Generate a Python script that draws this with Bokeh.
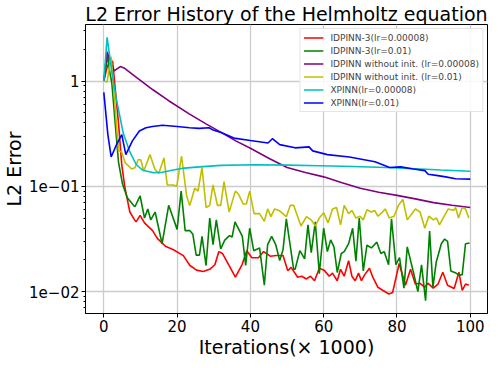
from bokeh.plotting import figure
from bokeh.models import FixedTicker, CustomJSTickFormatter
from bokeh.embed import file_html
from bokeh.resources import INLINE

FONT = "DejaVu Sans"

title = "L2 Error History of the Helmholtz equation"
x_label = "Iterations(× 1000)"
y_label = "L2 Error"
x_ticks = [0, 20, 40, 60, 80, 100]
y_ticks = [0.01, 0.1, 1]

labels = ["IDPINN-3(lr=0.00008)", "IDPINN-3(lr=0.01)",
          "IDPINN without init. (lr=0.00008)", "IDPINN without init. (lr=0.01)",
          "XPINN(lr=0.00008)", "XPINN(lr=0.01)"]
colors = ["#ff0000", "#008000", "#800080", "#bfbf00", "#00bfbf", "#0000ff"]

# IDPINN-3 (lr=0.00008)
red_x = [0, 1, 2.4, 4, 4.9, 5.7, 7.1, 8.4, 8.8, 9.9, 11.1, 13.3, 14.6, 16.8, 19, 21.7,
         23.5, 25.3, 27.1, 28.9, 30.3, 31.4, 32.4, 34.2, 35.9, 37.7, 39, 40.4, 42.2,
         43.6, 45.4, 47.1, 48.9, 50.2, 51.1, 52.9, 54, 55.3, 56.4, 57.5, 58.8, 60.1,
         61.5, 62.4, 63.7, 64.6, 65.6, 66.8, 67.7, 68.6, 69.5, 70.3, 71.2, 72.5, 73.4,
         74.8, 76.1, 77.8, 78.8, 80.6, 82.3, 83.7, 85, 86.3, 87.6, 88.5, 89.9, 91.2,
         92.5, 93.8, 95.6, 96.9, 97.8, 98.7, 99.6]
red_y = [1.0, 1.4, 1.55, 0.4, 0.16, 0.1, 0.057, 0.048, 0.046, 0.053, 0.045, 0.038, 0.032,
         0.027, 0.025, 0.022, 0.0177, 0.016, 0.0155, 0.0163, 0.018, 0.024, 0.023, 0.0177,
         0.0137, 0.018, 0.0244, 0.021, 0.021, 0.024, 0.0217, 0.022, 0.022, 0.0158, 0.017,
         0.0137, 0.014, 0.0132, 0.014, 0.0127, 0.0167, 0.016, 0.014, 0.015, 0.0127, 0.0163,
         0.014, 0.0197, 0.014, 0.0127, 0.015, 0.0127, 0.0145, 0.0167, 0.0137, 0.011, 0.0103,
         0.0095, 0.0098, 0.0185, 0.0115, 0.0163, 0.0118, 0.012, 0.011, 0.012, 0.0108,
         0.0118, 0.0153, 0.0115, 0.0107, 0.0153, 0.0103, 0.0118, 0.0115]

# IDPINN-3 (lr=0.01)
green_x = [0, 1.1, 1.4, 2.2, 3.1, 4, 5.1, 6.4, 8.1, 8.5, 9.9, 11.1, 12, 12.8, 14, 15.9,
           17.7, 20, 21.1, 22.2, 23.45, 24.3, 25.2, 26.1, 26.8, 27.9, 28.9, 29.8, 30.7,
           31.9, 33, 34.3, 35, 35.8, 37.8, 38.7, 39.8, 40.9, 42.5, 43.8, 44.7, 45.8, 46.9,
           48, 48.9, 49.8, 51.8, 52.2, 53.5, 54.8, 55.7, 56.6, 57.7, 58.8, 60, 61, 61.9,
           62.8, 63.7, 64.8, 65.6, 66.8, 67.9, 68.8, 69.7, 70.8, 71.8, 73, 74.5, 75.6,
           76.5, 77.7, 78.5, 79.7, 80.7, 81.9, 82.8, 84.5, 85.7, 86.7, 87.8, 88.9, 89.8,
           90.7, 92.1, 93, 93.8, 94.7, 96.1, 97, 97.8, 98.7, 99.8]
green_y = [1.0, 1.8, 1.35, 0.95, 0.4, 0.17, 0.105, 0.078, 0.066, 0.064, 0.081, 0.05, 0.061,
           0.048, 0.057, 0.0285, 0.066, 0.039, 0.09, 0.038, 0.038, 0.035, 0.0222, 0.0222,
           0.0334, 0.0177, 0.05, 0.028, 0.048, 0.0254, 0.0308, 0.034, 0.033, 0.046, 0.0334,
           0.0177, 0.04, 0.0245, 0.026, 0.0115, 0.028, 0.0334, 0.028, 0.0197, 0.025, 0.049,
           0.0163, 0.0163, 0.0245, 0.0205, 0.043, 0.0234, 0.046, 0.0148, 0.04, 0.024, 0.031,
           0.0266, 0.0152, 0.023, 0.024, 0.0285, 0.04, 0.0195, 0.05, 0.0157, 0.0276, 0.026,
           0.0295, 0.023, 0.024, 0.018, 0.049, 0.018, 0.021, 0.0108, 0.0266, 0.0152, 0.01,
           0.018, 0.0082, 0.0376, 0.011, 0.019, 0.0285, 0.0316, 0.03, 0.0157, 0.015, 0.0143,
           0.0145, 0.0285, 0.029]

# IDPINN without init. (lr=0.00008)
purple_x = [0, 0.9, 2.8, 4.5, 5.5, 8.8, 13.3, 17.7, 23.4, 28, 32, 36, 40, 45, 50, 55, 60,
            65, 70, 75, 80, 85, 90, 95, 100]
purple_y = [1.0, 1.9, 1.25, 1.37, 1.33, 1.09, 0.83, 0.65, 0.485, 0.39, 0.325, 0.27, 0.23,
            0.185, 0.151, 0.135, 0.123, 0.108, 0.096, 0.088, 0.082, 0.076, 0.07, 0.066, 0.063]

# IDPINN without init. (lr=0.01)
yellow_x = [0, 0.9, 2, 4, 4.9, 5.8, 7.6, 8.5, 9.4, 10.1, 10.9, 12.6, 13.9, 15, 16.4, 17.3,
            19, 19.9, 21.2, 22.6, 23.45, 24.8, 25.7, 26.8, 27.9, 28.9, 29.8, 31, 31.9, 32.8,
            34.2, 35.9, 36.7, 38, 38.9, 39.8, 41, 42.5, 43.8, 44.7, 45.6, 46.6, 47.8, 49.8,
            50.9, 51.8, 53.8, 55.3, 56.6, 57.7, 58.8, 60, 61.2, 62.4, 63.5, 64.6, 65.6,
            66.8, 67.7, 68.8, 69.9, 70.8, 71.8, 73, 73.9, 74.8, 75.6, 76.8, 77.9, 79.2,
            80.4, 81.6, 82.8, 85, 86.3, 87.6, 88.7, 89.9, 90.8, 91.6, 92.8, 94, 95.5, 96,
            96.8, 97.8, 98.7, 99.6]
yellow_y = [1.0, 0.98, 1.7, 0.22, 0.21, 0.168, 0.146, 0.15, 0.18, 0.178, 0.14, 0.2, 0.146,
            0.132, 0.186, 0.103, 0.103, 0.1, 0.193, 0.081, 0.0656, 0.096, 0.09, 0.151, 0.063,
            0.066, 0.103, 0.066, 0.066, 0.111, 0.057, 0.09, 0.085, 0.068, 0.068, 0.09, 0.055,
            0.055, 0.0465, 0.061, 0.0515, 0.061, 0.059, 0.0515, 0.066, 0.066, 0.042, 0.0515,
            0.048, 0.042, 0.05, 0.056, 0.045, 0.061, 0.063, 0.043, 0.066, 0.055, 0.059, 0.05,
            0.052, 0.048, 0.06, 0.057, 0.059, 0.052, 0.055, 0.061, 0.05, 0.052, 0.066, 0.075,
            0.048, 0.061, 0.057, 0.04, 0.052, 0.048, 0.05, 0.043, 0.0515, 0.061, 0.059, 0.063,
            0.05, 0.063, 0.061, 0.05]

# XPINN (lr=0.00008)
cyan_x = [0, 0.9, 2.2, 3.5, 5.3, 7, 8.8, 10.6, 13.3, 16, 18.6, 22, 26, 32, 41, 50, 59, 68,
          77, 85, 92, 100]
cyan_y = [1.0, 2.6, 1.21, 0.65, 0.32, 0.216, 0.162, 0.142, 0.135, 0.136, 0.142, 0.149,
          0.153, 0.158, 0.16, 0.159, 0.157, 0.154, 0.151, 0.147, 0.143, 0.139]

# XPINN (lr=0.01)
blue_x = [0, 1.1, 2, 3.5, 4.9, 6, 7.8, 9.7, 11.5, 13.3, 16, 20, 23.4, 26, 28.7, 30, 32,
          35.5, 40, 44.8, 46, 48, 52.2, 56, 57, 61, 67, 74, 78, 81, 84.5, 87.6, 88.5, 90.7,
          93.3, 96, 100]
blue_y = [0.78, 0.31, 0.19, 0.25, 0.31, 0.2, 0.27, 0.335, 0.36, 0.37, 0.38, 0.37, 0.36,
          0.355, 0.36, 0.34, 0.325, 0.287, 0.272, 0.258, 0.283, 0.249, 0.232, 0.237, 0.217,
          0.2, 0.19, 0.171, 0.151, 0.153, 0.146, 0.141, 0.13, 0.127, 0.123, 0.118, 0.117]

series = [(red_x, red_y), (green_x, green_y), (purple_x, purple_y),
          (yellow_x, yellow_y), (cyan_x, cyan_y), (blue_x, blue_y)]

p = figure(width=490, height=360, y_axis_type="log", x_range=(-5, 104.7),
           y_range=(0.0062, 3.44), output_backend="svg", toolbar_location=None,
           title=title, min_border_left=0, min_border_right=3, min_border_top=0,
           min_border_bottom=0)

for (xs, ys), lab, col in zip(series, labels, colors):
    p.line(xs, ys, line_color=col, line_width=1.6, legend_label=lab)

p.title.text_font = FONT
p.title.text_font_size = "19px"
p.title.text_font_style = "normal"
p.title.align = "center"
p.title.standoff = 0
p.title.text_color = "black"

p.outline_line_color = "black"
p.outline_line_width = 1
p.outline_line_alpha = 1

p.xaxis.ticker = FixedTicker(ticks=x_ticks)
minors = [m * 10.0 ** e for e in (-3, -2, -1, 0) for m in range(2, 10)]
p.yaxis.ticker = FixedTicker(ticks=y_ticks, minor_ticks=minors)
p.yaxis.formatter = CustomJSTickFormatter(code="""
const e = Math.round(Math.log10(tick));
if (e === 0) return "1";
const a = Math.abs(e);
return "1e" + (e < 0 ? "\u2212" : "+") + (a < 10 ? "0" : "") + a;
""")

for ax in (p.xaxis[0], p.yaxis[0]):
    ax.axis_label_text_font = FONT
    ax.axis_label_text_font_size = "19px"
    ax.axis_label_text_font_style = "normal"
    ax.axis_label_text_color = "black"
    ax.major_label_text_font = FONT
    ax.major_label_text_font_size = "15px"
    ax.major_label_text_color = "black"
    ax.axis_line_color = "black"
    ax.major_tick_line_color = "black"
    ax.major_tick_in = 0
    ax.major_tick_out = 4
    ax.major_label_standoff = 2
    ax.axis_label_standoff = 1

p.xaxis.axis_label = x_label
p.yaxis.axis_label = y_label
p.xaxis.minor_tick_line_color = None
p.yaxis.minor_tick_in = 0
p.yaxis.minor_tick_out = 2
p.yaxis.minor_tick_line_color = "black"

p.xgrid.grid_line_color = "#cccccc"
p.ygrid.grid_line_color = "#cccccc"
p.xgrid.grid_line_width = 1.3
p.ygrid.grid_line_width = 1.3

lg = p.legend[0]
lg.location = "top_right"
lg.label_text_font = FONT
lg.label_text_font_size = "9px"
lg.glyph_width = 20
lg.glyph_height = 11
lg.label_height = 11
lg.label_standoff = 7
lg.spacing = 2
lg.padding = 3
lg.margin = 4
lg.border_line_color = "#cccccc"
lg.border_line_width = 1
lg.background_fill_alpha = 0.85

open("out.html", "w").write(file_html(p, INLINE))
